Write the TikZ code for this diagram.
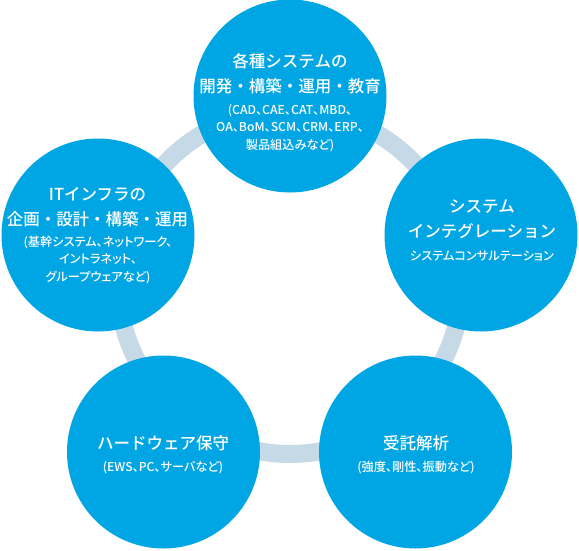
\documentclass[tikz,border=0pt]{standalone}
\usepackage{fontspec}
\newfontfamily\jpfont{Noto Sans CJK JP Medium}
\newfontfamily\jpnote[RawFeature=+palt]{Noto Sans CJK JP Medium}
\definecolor{svcblue}{RGB}{0,166,227}
\definecolor{ringgray}{RGB}{198,217,230}

\begin{document}
\begin{tikzpicture}[x=1pt,y=-1pt,
    field/.style={circle,fill=svcblue,minimum size=193pt,inner sep=0pt},
    headline/.style={text=white,align=center,font=\jpfont\fontsize{16.5}{25}\selectfont},
    detail/.style={text=white,align=center,font=\jpnote\fontsize{12.2}{17.5}\selectfont},
    ring/.style={draw=ringgray,line width=18pt}
]
\useasboundingbox (0,0) rectangle (579,550);

\coordinate (hub) at (290,282);
\draw[ring] (hub) circle[radius=172pt];

\node[field] (dev) at (290,96) {};
\node[field] (sysint) at (481,235) {};
\node[field] (analysis) at (415.5,452) {};
\node[field] (hw) at (163.5,452) {};
\node[field] (infra) at (98,235) {};

\node[headline] (devHead) at (290,74) {各種システムの\\開発・構築・運用・教育};
\node[detail] (devNote) at (290,128) {(CAD、CAE、CAT、MBD、\\OA、BoM、SCM、CRM、ERP、\\製品組込みなど)};

\node[headline] (sysintHead) at (482,219.5) {システム\\インテグレーション};
\node[detail] (sysintNote) at (482,256) {システムコンサルテーション};

\node[headline] (analysisHead) at (416,443) {受託解析};
\node[detail] (analysisNote) at (416,468) {(強度、剛性、振動など)};

\node[headline] (hwHead) at (163,443) {ハードウェア保守};
\node[detail] (hwNote) at (163,468) {(EWS、PC、サーバなど)};

\node[headline] (infraHead) at (97.5,207.5) {ITインフラの\\企画・設計・構築・運用};
\node[detail] (infraNote) at (98,260) {(基幹システム、ネットワーク、\\イントラネット、\\グループウェアなど)};
\end{tikzpicture}
\end{document}
